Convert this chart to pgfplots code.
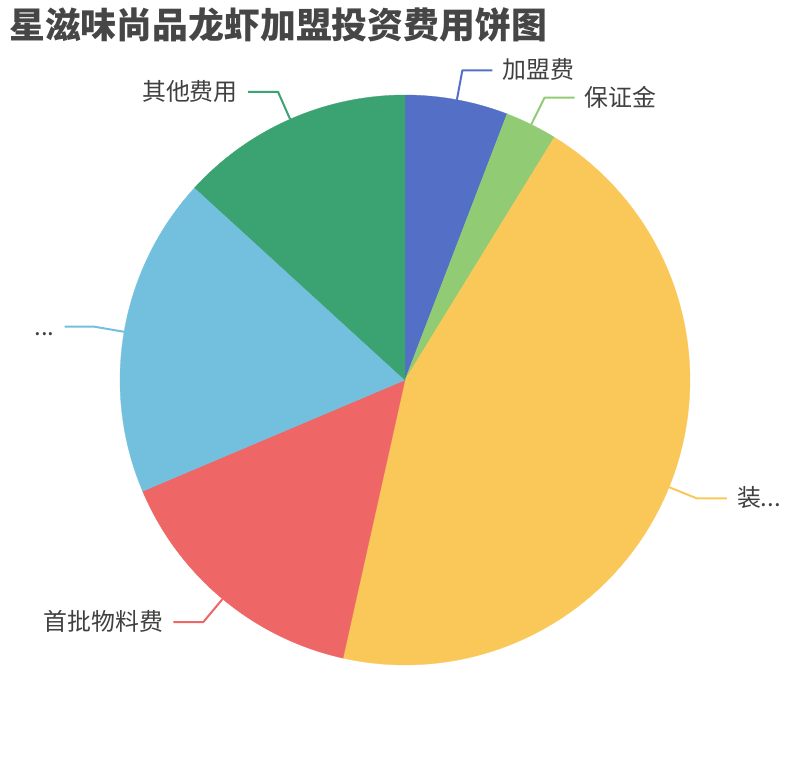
\documentclass[border=0pt]{standalone}
\usepackage{pgfplots}
\pgfplotsset{compat=1.18}
\usepackage{pgfplotstable}
\usepackage{fontspec}
\setmainfont{Noto Sans CJK SC}
\definecolor{cA}{HTML}{5470C6}
\definecolor{cB}{HTML}{91CC75}
\definecolor{cC}{HTML}{FAC858}
\definecolor{cD}{HTML}{EE6666}
\definecolor{cE}{HTML}{73C0DE}
\definecolor{cF}{HTML}{3BA272}
\definecolor{txt}{HTML}{464646}
\definecolor{lab}{HTML}{404040}

\pgfplotstableread{
name value
加盟费 5.83
保证金 2.95
装修费 44.71
首批物料费 15.13
设备费 18.17
其他费用 13.21
}\piedata

\newcommand\getval[2]{\pgfplotstablegetelem{#1}{value}\of\piedata\let#2\pgfplotsretval}

% label geometry: #1 id, #2 mid angle (clockwise from top), #3 side sign
\newcommand\deflab[3]{%
  \pgfmathsetmacro\tmp{405+285*sin(#2)}\expandafter\let\csname#1px\endcsname\tmp
  \pgfmathsetmacro\tmp{380+285*cos(#2)}\expandafter\let\csname#1py\endcsname\tmp
  \pgfmathsetmacro\tmp{405+315*sin(#2)}\expandafter\let\csname#1qx\endcsname\tmp
  \pgfmathsetmacro\tmp{380+315*cos(#2)}\expandafter\let\csname#1qy\endcsname\tmp
  \pgfmathsetmacro\tmp{405+315*sin(#2)+30*#3}\expandafter\let\csname#1rx\endcsname\tmp
  \pgfmathsetmacro\tmp{405+315*sin(#2)+40*#3}\expandafter\let\csname#1tx\endcsname\tmp
}
\newcommand\drawlab[4]{% #1 id, #2 colour, #3 anchor, #4 text
  \draw[#2, line width=2bp, line join=round]
    (axis cs:\csname#1px\endcsname,\csname#1py\endcsname) --
    (axis cs:\csname#1qx\endcsname,\csname#1qy\endcsname) --
    (axis cs:\csname#1rx\endcsname,\csname#1qy\endcsname);
  \node[anchor=#3, inner sep=0pt, text=lab, font=\fontsize{24}{24}\selectfont,
        text height=20bp, text depth=3bp]
    at (axis cs:\csname#1tx\endcsname,\csname#1qy\endcsname) {#4};
}

\getval{0}\vA \getval{1}\vB \getval{2}\vC \getval{3}\vD \getval{4}\vE \getval{5}\vF
\pgfmathsetmacro\tot{\vA+\vB+\vC+\vD+\vE+\vF}
\pgfmathsetmacro\aA{0}
\pgfmathsetmacro\aB{\aA+360*\vA/\tot}
\pgfmathsetmacro\aC{\aB+360*\vB/\tot}
\pgfmathsetmacro\aD{\aC+360*\vC/\tot}
\pgfmathsetmacro\aE{\aD+360*\vD/\tot}
\pgfmathsetmacro\aF{\aE+360*\vE/\tot}
\pgfmathsetmacro\aG{360}
\pgfmathsetmacro\mA{(\aA+\aB)/2}\deflab{A}{\mA}{1}
\pgfmathsetmacro\mB{(\aB+\aC)/2}\deflab{B}{\mB}{1}
\pgfmathsetmacro\mC{(\aC+\aD)/2}\deflab{C}{\mC}{1}
\pgfmathsetmacro\mD{(\aD+\aE)/2}\deflab{D}{\mD}{-1}
\pgfmathsetmacro\mE{(\aE+\aF)/2}\deflab{E}{\mE}{-1}
\pgfmathsetmacro\mF{(\aF+\aG)/2}\deflab{F}{\mF}{-1}

\begin{document}%
\begin{tikzpicture}
\begin{axis}[
  at={(0,0)}, anchor=south west,
  width=810bp, height=760bp, scale only axis,
  xmin=0, xmax=810, ymin=0, ymax=760,
  hide axis, clip=false,
]
\addplot[fill=cA, draw=cA, line width=0.3pt, domain=\aA:\aB, samples=40] ({405+285*sin(x)},{380+285*cos(x)}) -- (axis cs:405,380) -- cycle;
\addplot[fill=cB, draw=cB, line width=0.3pt, domain=\aB:\aC, samples=30] ({405+285*sin(x)},{380+285*cos(x)}) -- (axis cs:405,380) -- cycle;
\addplot[fill=cC, draw=cC, line width=0.3pt, domain=\aC:\aD, samples=160] ({405+285*sin(x)},{380+285*cos(x)}) -- (axis cs:405,380) -- cycle;
\addplot[fill=cD, draw=cD, line width=0.3pt, domain=\aD:\aE, samples=60] ({405+285*sin(x)},{380+285*cos(x)}) -- (axis cs:405,380) -- cycle;
\addplot[fill=cE, draw=cE, line width=0.3pt, domain=\aE:\aF, samples=70] ({405+285*sin(x)},{380+285*cos(x)}) -- (axis cs:405,380) -- cycle;
\addplot[fill=cF, draw=cF, line width=0.3pt, domain=\aF:\aG, samples=50] ({405+285*sin(x)},{380+285*cos(x)}) -- (axis cs:405,380) -- cycle;
\drawlab{A}{cA}{west}{加盟费}
\drawlab{B}{cB}{west}{保证金}
\drawlab{C}{cC}{west}{装...}
\drawlab{D}{cD}{east}{首批物料费}
\drawlab{E}{cE}{east}{...}
\drawlab{F}{cF}{east}{其他费用}
\node[anchor=west, inner sep=0pt, text=txt, font=\bfseries\fontsize{36}{36}\selectfont,
      text height=30bp, text depth=5bp] at (axis cs:9,734) {星滋味尚品龙虾加盟投资费用饼图};
\end{axis}
\pgfresetboundingbox
\path[use as bounding box] (0,0) rectangle (810bp,760bp);
\end{tikzpicture}%
\end{document}
